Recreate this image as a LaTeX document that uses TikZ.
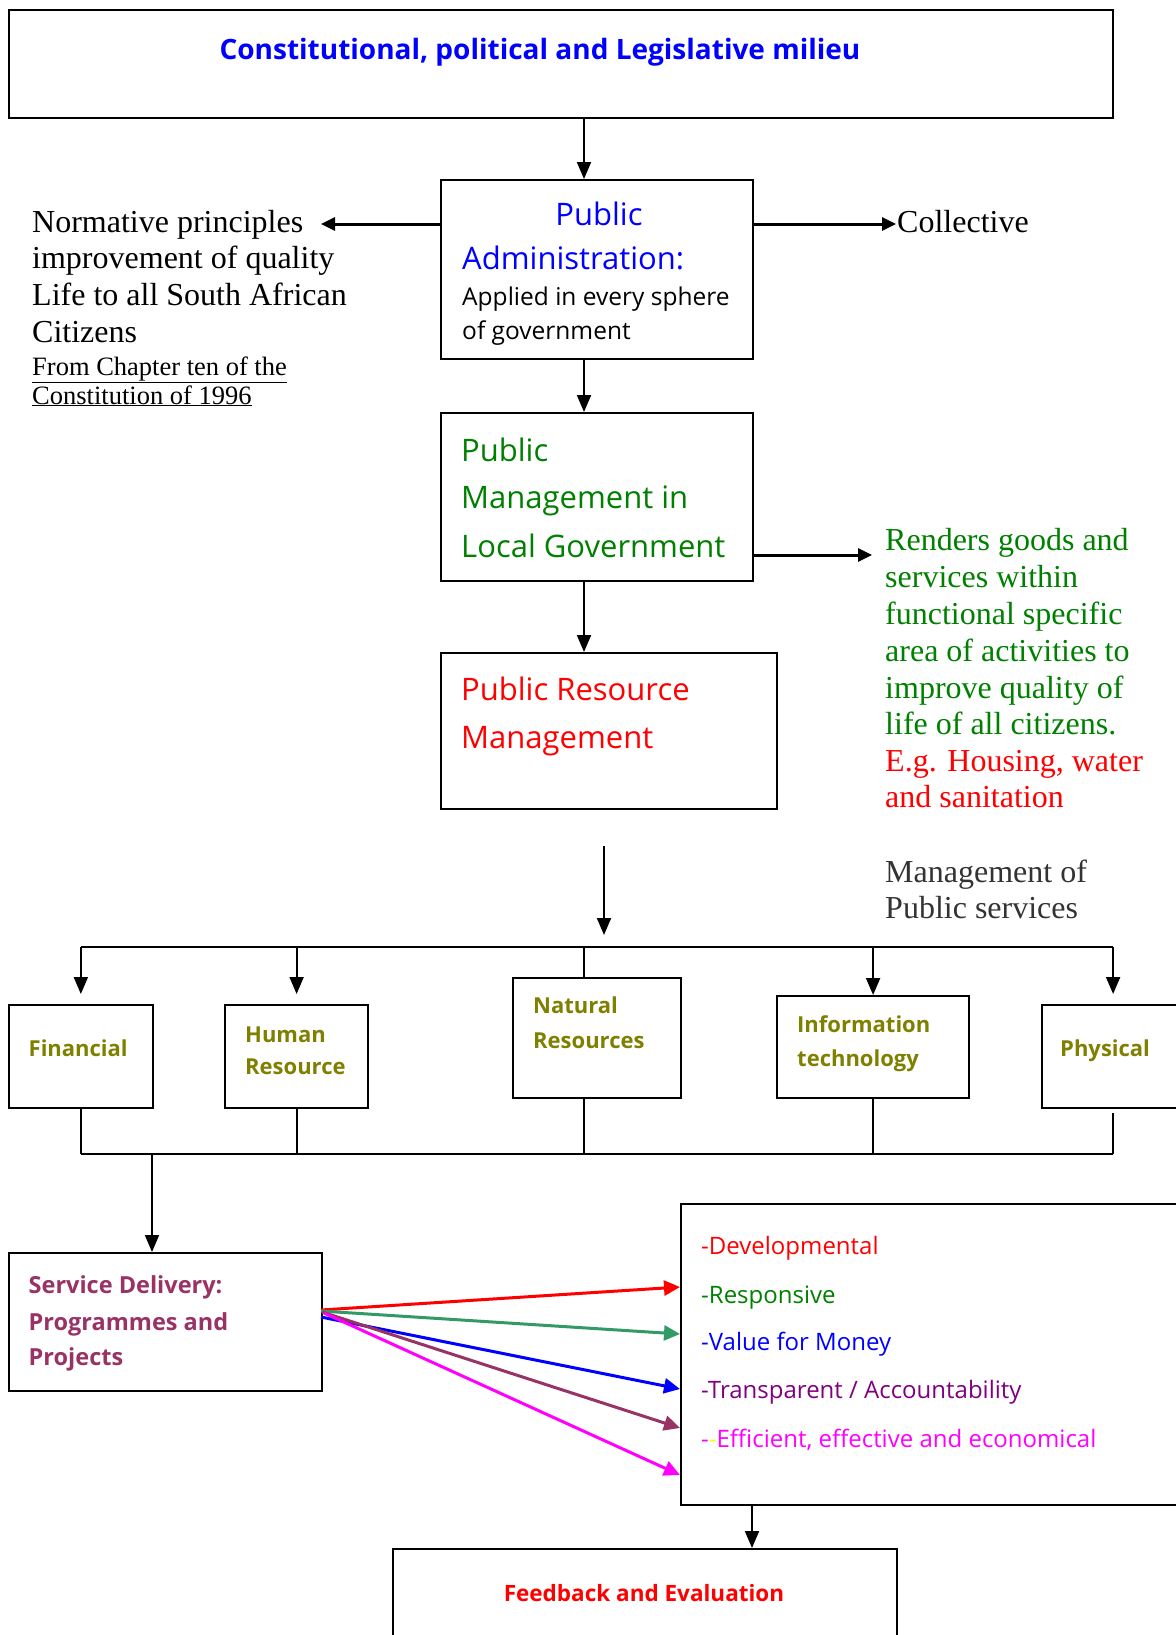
\documentclass[tikz,border=0pt]{standalone}
\usepackage{fontspec}
\setmainfont{Liberation Serif}
\newfontfamily\hand{Open Sans}
\usetikzlibrary{arrows.meta}

\definecolor{dgreen}{HTML}{008000}
\definecolor{olivec}{HTML}{808000}
\definecolor{plum}{HTML}{993366}
\definecolor{purp}{HTML}{800080}
\definecolor{seagreen}{HTML}{339966}
\definecolor{slate}{HTML}{333333}
\definecolor{fuchsia}{HTML}{FF00FF}
\definecolor{lemon}{HTML}{FFFF00}

\tikzset{
  panel/.style args={#1 by #2}{draw, line width=2.2pt, anchor=north west,
    inner sep=0pt, minimum width=#1pt, minimum height=#2pt},
  txt/.style={anchor=base west, inner sep=0pt},
  serif/.style={txt, font=\fontsize{32}{38}\selectfont},
  small/.style={txt, font=\fontsize{26.5}{31}\selectfont},
  handA/.style={txt, font=\hand\fontsize{31}{36}\selectfont},
  handB/.style={txt, font=\hand\fontsize{24.5}{29}\selectfont},
  handL/.style={txt, font=\hand\fontsize{24}{29}\selectfont},
  res/.style={txt, text=olivec, font=\hand\bfseries\fontsize{22}{26}\selectfont},
  sdel/.style={txt, text=plum, font=\hand\bfseries\fontsize{23.5}{28}\selectfont},
  link/.style={line width=2pt},
  arr/.style={line width=2pt, -{Triangle[length=17pt,width=14pt]}},
  harr/.style={line width=3pt, -{Triangle[length=14pt,width=13pt]}},
  carr/.style={line width=3pt, -{Triangle[length=16pt,width=15pt]}},
}

\begin{document}
\begin{tikzpicture}[x=1pt,y=-1pt]
\useasboundingbox (0,0) rectangle (1175,1635);

% ---------- top frame ----------
\node[panel=1104 by 108] (milieu) at (8,9) {};
\node[anchor=base, inner sep=0pt, text=blue,
      font=\hand\bfseries\fontsize{28}{34}\selectfont] (milieuT) at (540,60)
      {Constitutional, political and Legislative milieu};

% ---------- public administration ----------
\node[panel=312 by 179] (pa) at (440,179) {};
\node[handA, text=blue, anchor=base] (paT1) at (599,225) {Public};
\node[handA, text=blue] (paT2) at (462,269) {Administration:};
\node[handB] (paT3) at (462,305) {Applied in every sphere};
\node[handB] (paT4) at (462,339) {of government};

\coordinate (colA) at (584,0);
\draw[arr] (milieu.south -| colA) -- (pa.north -| colA);

% left text block
\node[serif] (norm1) at (32,232) {Normative principles};
\node[serif] (norm2) at (32,268) {improvement of quality};
\node[serif] (norm3) at (32,305) {Life to all South African};
\node[serif] (norm4) at (32,342) {Citizens};
\node[small] (src1) at (32,375) {\underline{From Chapter ten of the}};
\node[small] (src2) at (32,404) {\underline{Constitution of 1996}};

\coordinate (rowPA) at (0,224);
\coordinate (normTip) at (321,224);
\draw[harr] (pa.west |- rowPA) -- (normTip);

\node[serif] (coll) at (897,232) {Collective};
\coordinate (collTip) at (896,224);
\draw[harr] (pa.east |- rowPA) -- (collTip);

% ---------- public management ----------
\node[panel=312 by 168] (pm) at (440,412) {};
\node[handA, text=dgreen] (pmT1) at (461,461) {Public};
\node[handA, text=dgreen] (pmT2) at (461,508) {Management in};
\node[handA, text=dgreen] (pmT3) at (461,557) {Local Government};
\draw[arr] (pa.south -| colA) -- (pm.north -| colA);

\coordinate (rendTip) at (872,555);
\draw[harr] (pm.east |- rendTip) -- (rendTip);

\node[serif, text=dgreen] (rend1) at (885,550) {Renders goods and};
\node[serif, text=dgreen] (rend2) at (885,587) {services within};
\node[serif, text=dgreen] (rend3) at (885,624) {functional specific};
\node[serif, text=dgreen] (rend4) at (885,661) {area of activities to};
\node[serif, text=dgreen] (rend5) at (885,698) {improve quality of};
\node[serif, text=dgreen] (rend6) at (885,734) {life of all citizens.};
\node[serif, text=red] (rend7) at (885,771) {E.g. Housing, water};
\node[serif, text=red] (rend8) at (885,807) {and sanitation};

% ---------- public resource management ----------
\node[panel=336 by 156] (prm) at (440,652) {};
\node[handA, text=red] (prmT1) at (461,700) {Public Resource};
\node[handA, text=red] (prmT2) at (461,748) {Management};
\draw[arr] (pm.south -| colA) -- (prm.north -| colA);

\node[serif, text=slate] (mps1) at (885,882) {Management of};
\node[serif, text=slate] (mps2) at (885,918) {Public services};

\coordinate (resTop) at (604,846);
\coordinate (resTip) at (604,935);
\draw[arr] (resTop) -- (resTip);

% ---------- resource boxes ----------
\node[panel=144.5 by 103] (fin) at (7.5,1004) {};
\node[panel=143 by 103] (hum) at (224,1004) {};
\node[panel=168 by 120] (nat) at (512,977) {};
\node[panel=192 by 102] (it) at (776,995) {};
\node[panel=142 by 103] (phy) at (1041,1004) {};

\node[res] (finT) at (28.5,1056) {Financial};
\node[res] (humT1) at (245,1042) {Human};
\node[res] (humT2) at (245,1074) {Resource};
\node[res] (natT1) at (533,1013) {Natural};
\node[res] (natT2) at (533,1048) {Resources};
\node[res] (itT1) at (797,1032) {Information};
\node[res] (itT2) at (797,1066) {technology};
\node[res] (phyT) at (1060,1056) {Physical};

% upper bus
\coordinate (busT) at (0,947);
\coordinate (tipRow) at (0,994);
\draw[link] (fin.north |- busT) -- (phy.north |- busT);
\draw[arr] (fin.north |- busT) -- (fin.north |- tipRow);
\draw[arr] (hum.north |- busT) -- (hum.north |- tipRow);
\draw[link] (colA |- busT) -- (nat.north -| colA);
\draw[arr] (it.north |- busT) -- (it.north);
\draw[arr] (phy.north |- busT) -- (phy.north |- tipRow);

% lower bus
\coordinate (busB) at (0,1154);
\coordinate (phyGap) at (0,1113);
\draw[link] (fin.south |- busB) -- (phy.south |- busB);
\draw[link] (fin.south) -- (fin.south |- busB);
\draw[link] (hum.south) -- (hum.south |- busB);
\draw[link] (nat.south -| colA) -- (colA |- busB);
\draw[link] (it.south) -- (it.south |- busB);
\draw[link] (phy.south |- phyGap) -- (phy.south |- busB);

% ---------- service delivery ----------
\node[panel=313.5 by 138] (sd) at (7.5,1252) {};
\node[sdel] (sdT1) at (28.5,1293) {Service Delivery:};
\node[sdel] (sdT2) at (28.5,1330) {Programmes and};
\node[sdel] (sdT3) at (28.5,1365) {Projects};
\coordinate (colSD) at (152,0);
\draw[arr] (colSD |- busB) -- (sd.north -| colSD);

% ---------- values ----------
\node[panel=520 by 301] (vals) at (680,1203) {};
\node[handL, text=red] (v1) at (701,1254) {-Developmental};
\node[handL, text=dgreen] (v2) at (701,1303) {-Responsive};
\node[handL, text=blue] (v3) at (701,1350) {-Value for Money};
\node[handL, text=purp] (v4) at (701,1398) {-Transparent / Accountability};
\node[handL, text=fuchsia] (v5) at (701,1447)
  {-\textcolor{lemon}{-}Efficient, effective and economical};

\coordinate (o1) at (321,1310);
\coordinate (o2) at (321,1311);
\coordinate (o3) at (321,1317);
\coordinate (o4) at (322,1312);
\coordinate (o5) at (324,1313);
\coordinate (t1) at (0,1287);
\coordinate (t2) at (0,1334);
\coordinate (t3) at (0,1389);
\coordinate (t4) at (0,1428);
\coordinate (t5) at (0,1475);
\draw[carr, red] (o1) -- (vals.west |- t1);
\draw[carr, seagreen] (o2) -- (vals.west |- t2);
\draw[carr, blue] (o3) -- (vals.west |- t3);
\draw[carr, plum] (o4) -- (vals.west |- t4);
\draw[carr, fuchsia] (o5) -- (vals.west |- t5);

% ---------- feedback ----------
\node[panel=504 by 100] (fb) at (392,1548) {};
\node[anchor=base, inner sep=0pt, text=red,
      font=\hand\bfseries\fontsize{22.5}{27}\selectfont] (fbT) at (644,1601)
      {Feedback and Evaluation};
\coordinate (colFB) at (752,0);
\draw[arr] (vals.south -| colFB) -- (fb.north -| colFB);

\end{tikzpicture}
\end{document}
